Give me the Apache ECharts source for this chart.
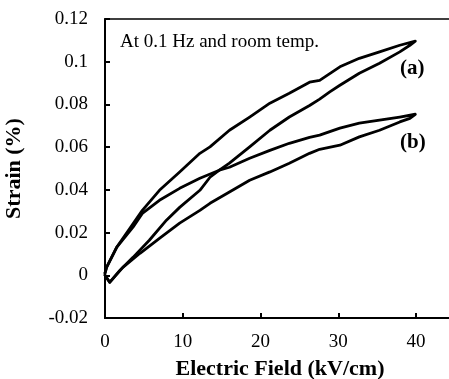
<!DOCTYPE html>
<html>
<head>
<meta charset="utf-8">
<script src="https://cdn.jsdelivr.net/npm/echarts@6/dist/echarts.min.js"></script>
<style>
  html, body { margin: 0; padding: 0; background: #fff; }
  #chart { width: 449px; height: 379px; }
</style>
</head>
<body>
<div id="chart"></div>
<script>
// loop (a): rising field branch, then falling field branch
const aRiseField  = [0, 0.6, 1.9, 3.6, 5.7, 7.9, 9.6, 12.2, 13.5, 14.7, 16.0, 18.6, 21.2, 23.7, 26.3, 27.6, 28.9, 30.2, 32.7, 35.3, 37.9, 39.2, 39.9]
const aRiseStrain = [0, -0.0033, 0.0023, 0.0084, 0.0164, 0.0258, 0.0318, 0.0398, 0.0459, 0.0492, 0.0525, 0.0601, 0.0679, 0.0741, 0.0795, 0.0825, 0.0859, 0.089, 0.0946, 0.0993, 0.1046, 0.1077, 0.1096]
const aFallField  = [39.9, 37.9, 35.3, 32.7, 30.2, 27.6, 26.3, 23.7, 21.2, 18.6, 16.0, 13.5, 12.2, 9.6, 7.0, 4.8, 3.2, 1.5, 0.2, 0]
const aFallStrain = [0.1096, 0.1077, 0.1046, 0.1016, 0.0976, 0.0913, 0.0904, 0.0852, 0.0806, 0.0741, 0.0679, 0.0601, 0.0571, 0.0484, 0.0398, 0.0304, 0.022, 0.0131, 0.0037, 0.001]

// loop (b)
const bRiseField  = [0, 0.6, 2.3, 4.5, 7.0, 9.6, 12.2, 13.5, 16.0, 18.6, 21.2, 23.7, 25.0, 26.3, 27.6, 30.2, 32.7, 35.3, 37.9, 39.2, 39.9]
const bRiseStrain = [0, -0.0033, 0.0037, 0.0103, 0.0173, 0.0244, 0.0304, 0.0337, 0.039, 0.0445, 0.0484, 0.0525, 0.0548, 0.0571, 0.059, 0.0609, 0.0648, 0.0679, 0.0718, 0.0735, 0.0754]
const bFallField  = [39.9, 37.9, 35.3, 32.7, 30.2, 27.6, 26.3, 23.7, 21.2, 18.6, 16.0, 14.7, 12.2, 9.6, 7.0, 4.8, 3.6, 1.5, 0.2, 0]
const bFallStrain = [0.0754, 0.0741, 0.0726, 0.0712, 0.0689, 0.0656, 0.0646, 0.0618, 0.0585, 0.0548, 0.0506, 0.0492, 0.0454, 0.0407, 0.0351, 0.029, 0.0225, 0.0131, 0.0037, 0.001]

const xTickLabels = ['0', '10', '20', '30', '40']
const yTickLabels = ['-0.02', '0', '0.02', '0.04', '0.06', '0.08', '0.1', '0.12']

function pairs(xs, ys) {
  return xs.map((x, i) => [x, ys[i]])
}

const serif = '"Liberation Serif", "Times New Roman", serif'

const chart = echarts.init(document.getElementById('chart'))

const lineSeries = (name, data) => ({
  name,
  type: 'line',
  data,
  showSymbol: false,
  smooth: false,
  animation: false,
  lineStyle: { color: '#000', width: 2.8, join: 'round', cap: 'round' },
})

chart.setOption({
  animation: false,
  grid: {
    left: 105, top: 19, right: -6, bottom: 61,
    containLabel: false, outerBoundsMode: 'none',
    show: true, borderColor: '#000', borderWidth: 1.5,
  },
  xAxis: {
    type: 'value', min: 0, max: 45, interval: 10,
    name: 'Electric Field (kV/cm)', nameLocation: 'middle', nameGap: 40,
    nameTextStyle: { fontFamily: serif, fontWeight: 'bold', fontSize: 22, color: '#000' },
    axisLine: { show: true, onZero: false, lineStyle: { color: '#000', width: 2 } },
    axisTick: { show: true, inside: true, length: 5, lineStyle: { color: '#000', width: 2 } },
    axisLabel: {
      fontFamily: serif, fontSize: 19, color: '#000', margin: 15,
      formatter: (v) => xTickLabels.includes(String(v)) ? String(v) : '',
    },
    splitLine: { show: false },
  },
  yAxis: {
    type: 'value', min: -0.02, max: 0.12, interval: 0.02,
    name: 'Strain (%)', nameLocation: 'middle', nameGap: 80, nameRotate: 90,
    nameTextStyle: { fontFamily: serif, fontWeight: 'bold', fontSize: 22, color: '#000' },
    axisLine: { show: true, onZero: false, lineStyle: { color: '#000', width: 2 } },
    axisTick: { show: true, inside: true, length: 5, lineStyle: { color: '#000', width: 2 } },
    axisLabel: {
      fontFamily: serif, fontSize: 19, color: '#000', margin: 17,
      formatter: (v) => {
        const s = String(parseFloat(v.toFixed(2)))
        return yTickLabels.includes(s) ? s : ''
      },
    },
    splitLine: { show: false },
  },
  graphic: [
    { type: 'text', left: 120, top: 33, style: { text: 'At 0.1 Hz and room temp.', font: '19px ' + serif, fill: '#000' } },
    { type: 'text', left: 400, top: 58, style: { text: '(a)', font: 'bold 21px ' + serif, fill: '#000' } },
    { type: 'text', left: 400, top: 132, style: { text: '(b)', font: 'bold 21px ' + serif, fill: '#000' } },
  ],
  series: [
    lineSeries('a', pairs(aRiseField, aRiseStrain).concat(pairs(aFallField, aFallStrain))),
    lineSeries('b', pairs(bRiseField, bRiseStrain).concat(pairs(bFallField, bFallStrain))),
  ],
})
</script>
</body>
</html>
